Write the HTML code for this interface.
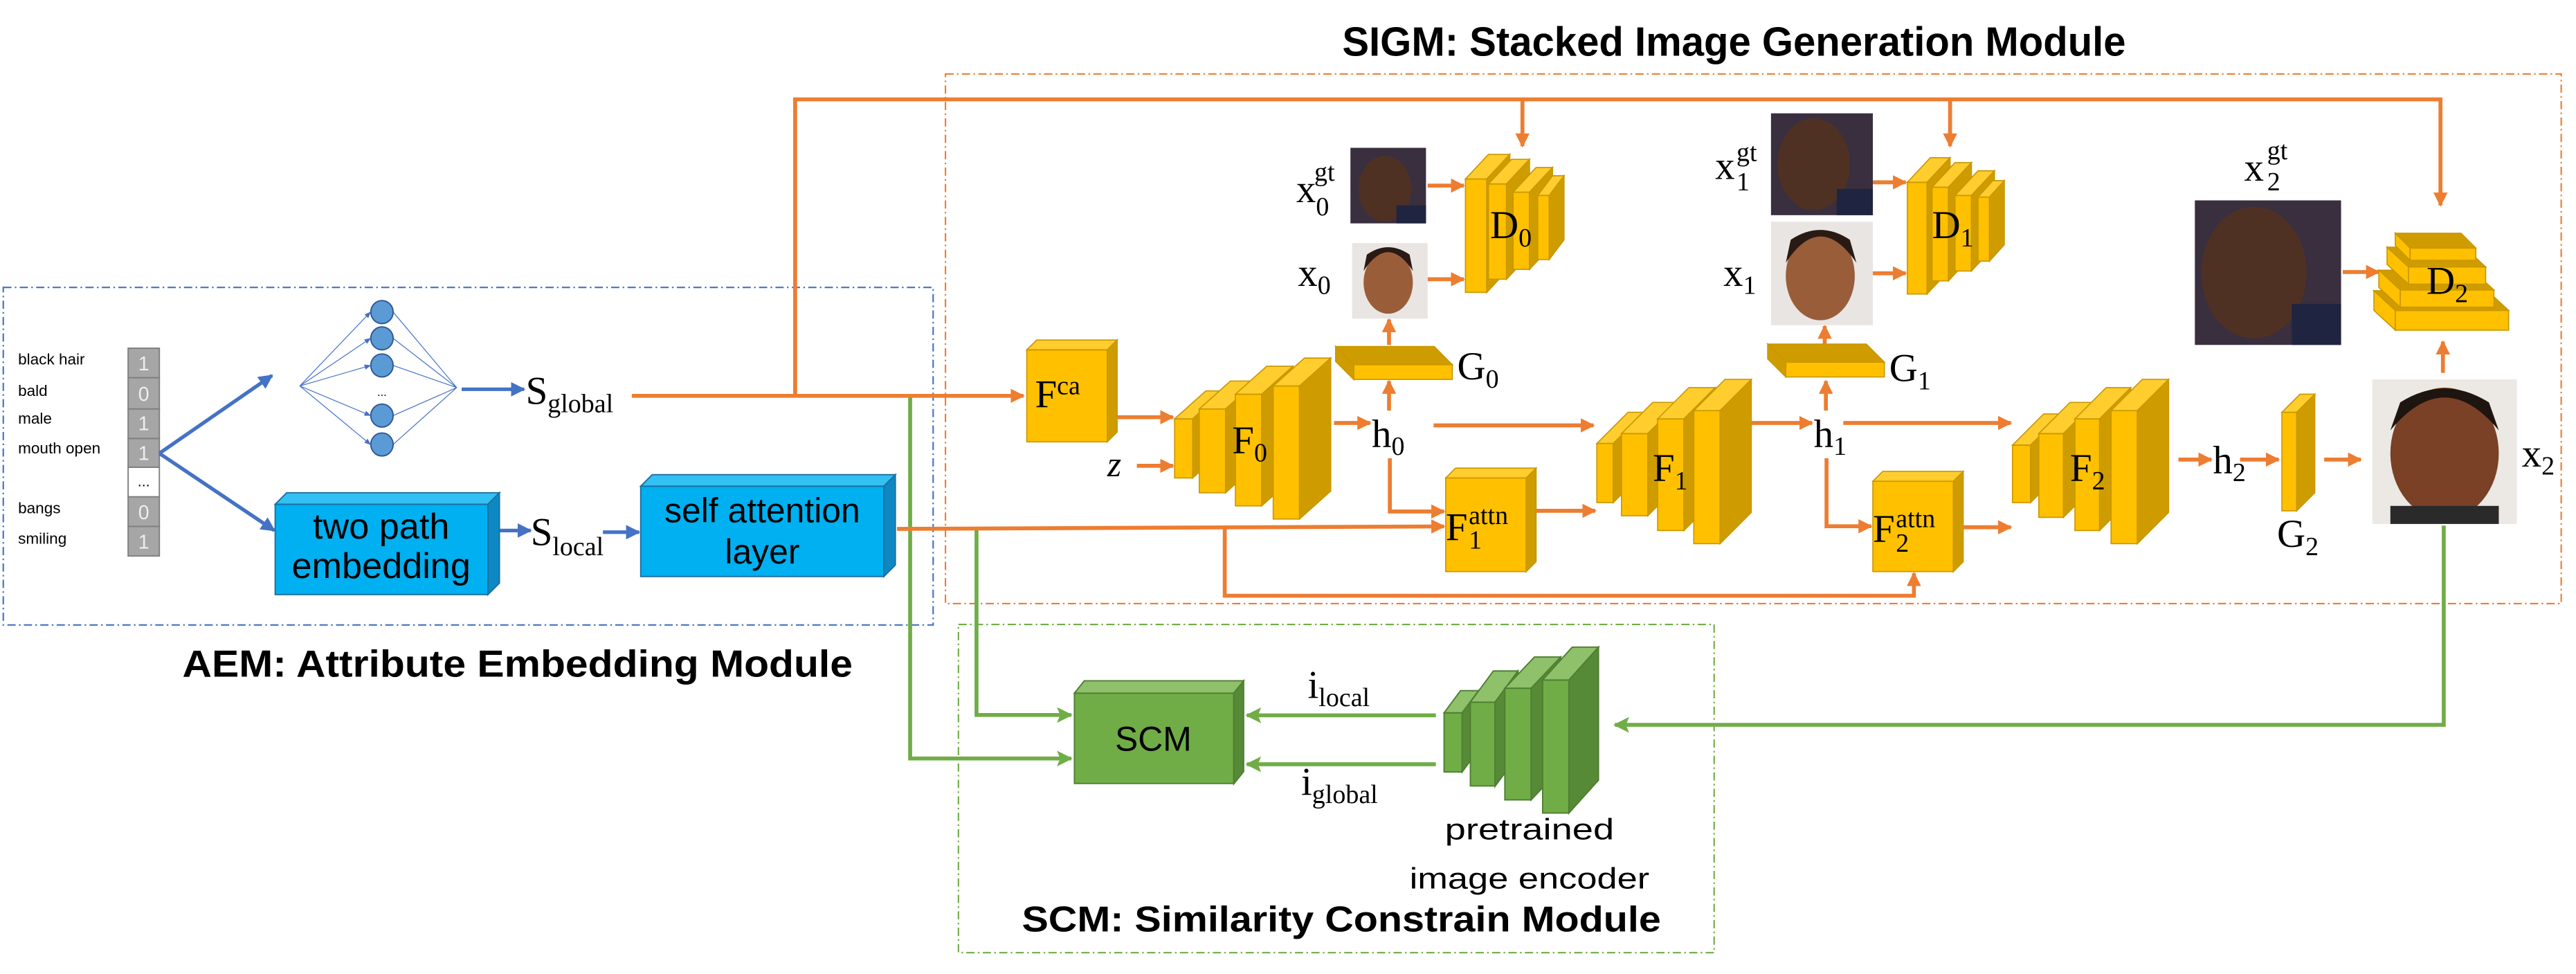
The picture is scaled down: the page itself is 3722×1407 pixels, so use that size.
<!DOCTYPE html>
<html><head><meta charset="utf-8"><style>
html,body{margin:0;padding:0;background:#fff;}
svg{display:block;}
.t{font-family:"Liberation Serif",serif;fill:#000;}
.s{font-family:"Liberation Sans",sans-serif;fill:#000;}
.o{stroke:#ed7d31;stroke-width:2.4;fill:none;}
.b{stroke:#4472c4;stroke-width:2.2;fill:none;}
.g{stroke:#70ad47;stroke-width:2.4;fill:none;}
.yf{fill:#ffc000;stroke:#c99700;stroke-width:0.7;}
.yt{fill:#ffcd2e;stroke:#c99700;stroke-width:0.7;}
.ys{fill:#cf9c00;stroke:#c99700;stroke-width:0.7;}
.gf{fill:#70ad47;stroke:#4f7e31;stroke-width:0.8;}
.gt{fill:#8fc06a;stroke:#4f7e31;stroke-width:0.8;}
.gs{fill:#568a36;stroke:#4f7e31;stroke-width:0.8;}
.bf{fill:#00b0f0;stroke:#1d6fa0;stroke-width:0.8;}
.bt{fill:#33c0f3;stroke:#1d6fa0;stroke-width:0.8;}
.bs{fill:#0e88c2;stroke:#1d6fa0;stroke-width:0.8;}
</style></head><body>
<svg width="3722" height="1407" viewBox="0 0 1568 593" preserveAspectRatio="none" xmlns="http://www.w3.org/2000/svg">
<defs>
<marker id="ao" viewBox="0 0 10 10" refX="9" refY="5" markerWidth="3.6" markerHeight="3.6" orient="auto"><path d="M0,0 L10,5 L0,10 z" fill="#ed7d31"/></marker>
<marker id="ab" viewBox="0 0 10 10" refX="9" refY="5" markerWidth="4" markerHeight="4" orient="auto"><path d="M0,0 L10,5 L0,10 z" fill="#4472c4"/></marker>
<marker id="abs" viewBox="0 0 10 10" refX="9" refY="5" markerWidth="8" markerHeight="8" orient="auto"><path d="M0,1 L10,5 L0,9 z" fill="#4472c4"/></marker>
<marker id="ag" viewBox="0 0 10 10" refX="9" refY="5" markerWidth="4" markerHeight="4.5" orient="auto"><path d="M0,0 L10,5 L0,10 L2,5 z" fill="#70ad47"/></marker>
</defs>

<!-- module boxes -->
<rect x="2" y="175" width="566" height="205.5" fill="none" stroke="#4472c4" stroke-width="0.9" stroke-dasharray="5 2 1 2"/>
<rect x="575.5" y="45" width="983.5" height="322.5" fill="none" stroke="#ed7d31" stroke-width="0.9" stroke-dasharray="5 2 1 2"/>
<rect x="583.4" y="380.2" width="460" height="199.8" fill="none" stroke="#70ad47" stroke-width="0.9" stroke-dasharray="5 2 1 2"/>

<!-- titles -->
<text class="s" x="111" y="412" font-size="23" font-weight="bold" textLength="408" lengthAdjust="spacingAndGlyphs">AEM: Attribute Embedding Module</text>
<text class="s" x="817" y="34" font-size="25" font-weight="bold" textLength="477" lengthAdjust="spacingAndGlyphs">SIGM: Stacked Image Generation Module</text>
<text class="s" x="622" y="567" font-size="22" font-weight="bold" textLength="389" lengthAdjust="spacingAndGlyphs">SCM: Similarity Constrain Module</text>

<!-- attributes -->
<g class="s" font-size="9.5">
<text x="11" y="222">black hair</text><text x="11" y="241">bald</text><text x="11" y="258">male</text>
<text x="11" y="276">mouth open</text><text x="11" y="312.5">bangs</text><text x="11" y="331">smiling</text>
</g>
<g stroke="#7f7f7f" stroke-width="0.8">
<rect x="78" y="212" width="19" height="18" fill="#a6a6a6"/><rect x="78" y="230" width="19" height="19" fill="#a6a6a6"/>
<rect x="78" y="249" width="19" height="18" fill="#a6a6a6"/><rect x="78" y="267" width="19" height="17.5" fill="#a6a6a6"/>
<rect x="78" y="284.5" width="19" height="18" fill="#fff"/><rect x="78" y="302.5" width="19" height="18" fill="#a6a6a6"/>
<rect x="78" y="320.5" width="19" height="18" fill="#a6a6a6"/>
</g>
<g class="s" font-size="12" fill="#eee" style="fill:#eee" text-anchor="middle">
<text x="87.5" y="225.5">1</text><text x="87.5" y="244">0</text><text x="87.5" y="262">1</text><text x="87.5" y="280">1</text>
<text x="87.5" y="316">0</text><text x="87.5" y="334">1</text>
</g>
<text class="s" x="87.5" y="296" font-size="9" text-anchor="middle">...</text>

<!-- blue arrows -->
<path class="b" d="M97,276 L165.6,228.6" marker-end="url(#ab)"/>
<path class="b" d="M97,276 L167,323" marker-end="url(#ab)"/>
<path class="b" d="M281,237 H319" marker-end="url(#ab)"/>
<path class="b" d="M293,323 H323" marker-end="url(#ab)"/>
<path class="b" d="M367,324 H389" marker-end="url(#ab)"/>

<!-- neural net -->
<g stroke="#4472c4" stroke-width="0.5" fill="none">
<path d="M182.5,235 L225.5,190" marker-end="url(#abs)"/><path d="M182.5,235 L225.5,206" marker-end="url(#abs)"/>
<path d="M182.5,235 L225.5,222.5" marker-end="url(#abs)"/><path d="M182.5,235 L225.5,253" marker-end="url(#abs)"/>
<path d="M182.5,235 L225.5,270.6" marker-end="url(#abs)"/>
<path d="M239.3,190 L278,236 M239.3,206 L278,236 M239.3,222.5 L278,236 M239.3,253 L278,236 M239.3,270.6 L278,236"/>
</g>
<g fill="#5b9bd5" stroke="#2f5597" stroke-width="0.8">
<ellipse cx="232.5" cy="190" rx="6.8" ry="7"/><ellipse cx="232.5" cy="206" rx="6.8" ry="7"/>
<ellipse cx="232.5" cy="222.5" rx="6.8" ry="7"/><ellipse cx="232.5" cy="253" rx="6.8" ry="7"/>
<ellipse cx="232.5" cy="270.6" rx="6.8" ry="7"/>
</g>
<text class="s" x="232.5" y="241" font-size="7" text-anchor="middle">...</text>

<text class="t" x="320" y="246" font-size="24">S<tspan font-size="16" dy="5">global</tspan></text>
<text class="t" x="323" y="332" font-size="24">S<tspan font-size="16" dy="6">local</tspan></text>

<!-- blue boxes -->
<rect class="bf" x="167.5" y="307" width="129.5" height="55"/>
<polygon class="bt" points="167.5,307 174.5,300 304,300 297,307"/>
<polygon class="bs" points="297,307 304,300 304,355 297,362"/>
<text class="s" x="232" y="328" font-size="22" text-anchor="middle">two path</text>
<text class="s" x="232" y="352" font-size="22" text-anchor="middle">embedding</text>
<rect class="bf" x="390" y="296" width="148" height="55"/>
<polygon class="bt" points="390,296 397,289 545,289 538,296"/>
<polygon class="bs" points="538,296 545,289 545,344 538,351"/>
<text class="s" x="464" y="318" font-size="21" text-anchor="middle">self attention</text>
<text class="s" x="464" y="343" font-size="21" text-anchor="middle">layer</text>

<!-- green connectors -->
<path class="g" d="M554,242 V461.8 H652" marker-end="url(#ag)"/>
<path class="g" d="M594.4,322 V435.3 H652" marker-end="url(#ag)"/>
<path class="g" d="M874,435.5 H759" marker-end="url(#ag)"/>
<path class="g" d="M874,465.3 H759" marker-end="url(#ag)"/>
<path class="g" d="M1487.5,320 V441.3 H983" marker-end="url(#ag)"/>

<!-- orange connectors -->
<path class="o" d="M384.6,241 H623" marker-end="url(#ao)"/>
<path class="o" d="M484,241 V60.5 H1485.5 V125" marker-end="url(#ao)"/>
<path class="o" d="M926.7,60.5 V89" marker-end="url(#ao)"/>
<path class="o" d="M1187,60.5 V89" marker-end="url(#ao)"/>
<path class="o" d="M674,254 H714" marker-end="url(#ao)"/>
<path class="o" d="M692,283.6 H714" marker-end="url(#ao)"/>
<path class="o" d="M812,257.5 H834" marker-end="url(#ao)"/>
<path class="o" d="M872.6,259 H970" marker-end="url(#ao)"/>
<path class="o" d="M845.5,250 V232" marker-end="url(#ao)"/>
<path class="o" d="M845.5,210 V194.5" marker-end="url(#ao)"/>
<path class="o" d="M846,279 V311.4 H879" marker-end="url(#ao)"/>
<path class="o" d="M546,322 L879,320.5" marker-end="url(#ao)"/>
<path class="o" d="M745.5,321.6 V362.7 H1165 V349" marker-end="url(#ao)"/>
<path class="o" d="M935,311 H971" marker-end="url(#ao)"/>
<path class="o" d="M869,113 H891" marker-end="url(#ao)"/>
<path class="o" d="M869,170 H891" marker-end="url(#ao)"/>
<path class="o" d="M1066,257.5 H1103" marker-end="url(#ao)"/>
<path class="o" d="M1111.4,250 V232" marker-end="url(#ao)"/>
<path class="o" d="M1110.7,215 V198.5" marker-end="url(#ao)"/>
<path class="o" d="M1111.8,279 V320.4 H1139" marker-end="url(#ao)"/>
<path class="o" d="M1122,257.5 H1224" marker-end="url(#ao)"/>
<path class="o" d="M1195,321 H1224" marker-end="url(#ao)"/>
<path class="o" d="M1140,111 H1160" marker-end="url(#ao)"/>
<path class="o" d="M1140,166.4 H1160" marker-end="url(#ao)"/>
<path class="o" d="M1326,279.8 H1346" marker-end="url(#ao)"/>
<path class="o" d="M1363.5,279.8 H1387" marker-end="url(#ao)"/>
<path class="o" d="M1414.7,279.8 H1437" marker-end="url(#ao)"/>
<path class="o" d="M1487,227 V208" marker-end="url(#ao)"/>
<path class="o" d="M1426,165.6 H1448" marker-end="url(#ao)"/>

<!-- Fca -->
<rect class="yf" x="625" y="213" width="49" height="56"/>
<polygon class="yt" points="625,213 631,207 680,207 674,213"/><polygon class="ys" points="674,213 680,207 680,263 674,269"/>
<text class="t" x="630" y="248" font-size="24">F<tspan font-size="16" dy="-8">ca</tspan></text>
<text class="t" x="674" y="290" font-size="22" font-style="italic">z</text>

<!-- F0 -->
<g>
<rect class="yf" x="715" y="255" width="11" height="36"/><polygon class="yt" points="715,255 734,238 745,238 726,255"/><polygon class="ys" points="726,255 745,238 745,274 726,291"/>
<rect class="yf" x="730" y="249" width="16" height="51"/><polygon class="yt" points="730,249 749,232 765,232 746,249"/><polygon class="ys" points="746,249 765,232 765,283 746,300"/>
<rect class="yf" x="752" y="240" width="16" height="68"/><polygon class="yt" points="752,240 771,223 787,223 768,240"/><polygon class="ys" points="768,240 787,223 787,291 768,308"/>
<rect class="yf" x="775" y="235" width="16" height="81"/><polygon class="yt" points="775,235 794,218 810,218 791,235"/><polygon class="ys" points="791,235 810,218 810,299 791,316"/>
</g>
<text class="t" x="750" y="276" font-size="24">F<tspan font-size="16" dy="5">0</tspan></text>

<!-- F1 -->
<rect class="yf" x="972" y="270" width="10" height="36"/><polygon class="yt" points="972,270 991,251 1001,251 982,270"/><polygon class="ys" points="982,270 1001,251 1001,287 982,306"/>
<rect class="yf" x="987" y="264" width="16" height="50"/><polygon class="yt" points="987,264 1006,245 1022,245 1003,264"/><polygon class="ys" points="1003,264 1022,245 1022,295 1003,314"/>
<rect class="yf" x="1009" y="255" width="16" height="68"/><polygon class="yt" points="1009,255 1028,236 1044,236 1025,255"/><polygon class="ys" points="1025,255 1044,236 1044,304 1025,323"/>
<rect class="yf" x="1031" y="250" width="16" height="81"/><polygon class="yt" points="1031,250 1050,231 1066,231 1047,250"/><polygon class="ys" points="1047,250 1066,231 1066,312 1047,331"/>
<text class="t" x="1006" y="293" font-size="24">F<tspan font-size="16" dy="5">1</tspan></text>

<!-- F2 -->
<rect class="yf" x="1225" y="271" width="11" height="35"/><polygon class="yt" points="1225,271 1244,252 1255,252 1236,271"/><polygon class="ys" points="1236,271 1255,252 1255,287 1236,306"/>
<rect class="yf" x="1241" y="264" width="15" height="51"/><polygon class="yt" points="1241,264 1260,245 1275,245 1256,264"/><polygon class="ys" points="1256,264 1275,245 1275,296 1256,315"/>
<rect class="yf" x="1263" y="255" width="15" height="68"/><polygon class="yt" points="1263,255 1282,236 1297,236 1278,255"/><polygon class="ys" points="1278,255 1297,236 1297,304 1278,323"/>
<rect class="yf" x="1285" y="250" width="16" height="81"/><polygon class="yt" points="1285,250 1304,231 1320,231 1301,250"/><polygon class="ys" points="1301,250 1320,231 1320,312 1301,331"/>
<text class="t" x="1260" y="293" font-size="24">F<tspan font-size="16" dy="5">2</tspan></text>

<!-- D0 -->
<rect class="yf" x="892" y="109" width="13" height="69"/><polygon class="yt" points="892,109 906,94 919,94 905,109"/><polygon class="ys" points="905,109 919,94 919,163 905,178"/>
<rect class="yf" x="906" y="112" width="11" height="58"/><polygon class="yt" points="906,112 920,97 931,97 917,112"/><polygon class="ys" points="917,112 931,97 931,155 917,170"/>
<rect class="yf" x="921" y="117" width="10" height="47"/><polygon class="yt" points="921,117 935,102 945,102 931,117"/><polygon class="ys" points="931,117 945,102 945,149 931,164"/>
<rect class="yf" x="936" y="119" width="7" height="39"/><polygon class="yt" points="936,119 945,107 952,107 943,119"/><polygon class="ys" points="943,119 952,107 952,146 943,158"/>
<text class="t" x="907" y="145" font-size="24">D<tspan font-size="16" dy="5">0</tspan></text>

<!-- D1 -->
<rect class="yf" x="1161" y="111" width="12" height="68"/><polygon class="yt" points="1161,111 1175,96 1187,96 1173,111"/><polygon class="ys" points="1173,111 1187,96 1187,164 1173,179"/>
<rect class="yf" x="1176" y="114" width="10" height="57"/><polygon class="yt" points="1176,114 1190,99 1200,99 1186,114"/><polygon class="ys" points="1186,114 1200,99 1200,156 1186,171"/>
<rect class="yf" x="1190" y="119" width="10" height="46"/><polygon class="yt" points="1190,119 1204,104 1214,104 1200,119"/><polygon class="ys" points="1200,119 1214,104 1214,150 1200,165"/>
<rect class="yf" x="1204" y="120" width="7" height="39"/><polygon class="yt" points="1204,120 1213,110 1220,110 1211,120"/><polygon class="ys" points="1211,120 1220,110 1220,149 1211,159"/>
<text class="t" x="1176" y="145" font-size="24">D<tspan font-size="16" dy="5">1</tspan></text>

<!-- G0 G1 G2 -->
<rect class="yf" x="824" y="222" width="60" height="9"/><polygon class="ys" points="824,222 813,211 873,211 884,222"/><polygon class="ys" points="824,222 813,211 813,220 824,231"/>
<text class="t" x="887" y="231" font-size="24">G<tspan font-size="16" dy="5">0</tspan></text>
<rect class="yf" x="1087" y="220.5" width="60" height="9"/><polygon class="ys" points="1087,220.5 1076,209.5 1136,209.5 1147,220.5"/><polygon class="ys" points="1087,220.5 1076,209.5 1076,218.5 1087,229.5"/>
<text class="t" x="1150" y="232" font-size="24">G<tspan font-size="16" dy="5">1</tspan></text>
<rect class="yf" x="1389" y="251" width="9" height="60"/><polygon class="yt" points="1389,251 1400,240 1409,240 1398,251"/><polygon class="ys" points="1398,251 1409,240 1409,300 1398,311"/>
<text class="t" x="1386" y="333" font-size="24">G<tspan font-size="16" dy="5">2</tspan></text>

<!-- Fattn -->
<rect class="yf" x="880" y="291" width="49" height="57"/><polygon class="yt" points="880,291 886,285 935,285 929,291"/><polygon class="ys" points="929,291 935,285 935,342 929,348"/>
<text class="t" x="880" y="329" font-size="24">F</text><text class="t" x="894" y="319" font-size="16">attn</text><text class="t" x="894" y="334" font-size="16">1</text>
<rect class="yf" x="1140" y="293" width="49" height="55"/><polygon class="yt" points="1140,293 1146,287 1195,287 1189,293"/><polygon class="ys" points="1189,293 1195,287 1195,342 1189,348"/>
<text class="t" x="1140" y="330" font-size="24">F</text><text class="t" x="1154" y="321" font-size="16">attn</text><text class="t" x="1154" y="336" font-size="16">2</text>

<!-- D2 -->
<rect class="yf" x="1458" y="189" width="69" height="12"/><polygon class="ys" points="1458,189 1445,177 1514,177 1527,189"/><polygon class="yf" points="1458,189 1445,177 1445,189 1458,201"/>
<rect class="yf" x="1461" y="176.5" width="57" height="10.5"/><polygon class="ys" points="1461,176.5 1448,164.5 1505,164.5 1518,176.5"/><polygon class="yf" points="1461,176.5 1448,164.5 1448,175 1461,187"/>
<rect class="yf" x="1466" y="162.5" width="47" height="10.5"/><polygon class="ys" points="1466,162.5 1453,150.5 1500,150.5 1513,162.5"/><polygon class="yf" points="1466,162.5 1453,150.5 1453,161 1466,173"/>
<rect class="yf" x="1467" y="151" width="40" height="7.5"/><polygon class="ys" points="1467,151 1458,142 1498,142 1507,151"/><polygon class="yf" points="1467,151 1458,142 1458,149.5 1467,158.5"/>
<text class="t" x="1477" y="179" font-size="24">D<tspan font-size="16" dy="5">2</tspan></text>

<!-- h labels -->
<text class="t" x="835" y="272" font-size="24">h<tspan font-size="16" dy="5">0</tspan></text>
<text class="t" x="1104" y="272" font-size="24">h<tspan font-size="16" dy="5">1</tspan></text>
<text class="t" x="1347" y="288" font-size="24">h<tspan font-size="16" dy="5">2</tspan></text>

<!-- faces -->
<g>
<rect x="822" y="90" width="46" height="46" fill="#3a2f3e"/><ellipse cx="843" cy="115" rx="16" ry="20" fill="#4f3124"/><rect x="850" y="125" width="18" height="11" fill="#1f2440"/>
<rect x="823" y="148" width="46" height="46" fill="#e9e5e2"/><ellipse cx="845" cy="172" rx="15" ry="19" fill="#9a5d3a"/><path d="M830,165 Q845,142 860,165 L858,155 Q845,146 832,155 z" fill="#2a1a14"/>
<rect x="1078" y="69" width="62" height="62" fill="#3a2f3e"/><ellipse cx="1104" cy="100" rx="22" ry="28" fill="#4f3124"/><rect x="1118" y="115" width="22" height="16" fill="#1f2440"/>
<rect x="1078" y="135" width="62" height="63" fill="#e9e5e2"/><ellipse cx="1108" cy="168" rx="21" ry="27" fill="#9a5d3a"/><path d="M1087,160 Q1108,128 1130,160 L1126,146 Q1108,134 1090,146 z" fill="#2a1a14"/>
<rect x="1336" y="122" width="89" height="88" fill="#3a2f3e"/><ellipse cx="1372" cy="166" rx="32" ry="40" fill="#4f3124"/><rect x="1395" y="185" width="30" height="25" fill="#1f2440"/>
<rect x="1444" y="231" width="88" height="88" fill="#ece8e4"/><ellipse cx="1488" cy="276" rx="33" ry="40" fill="#7a4126"/><path d="M1455,262 Q1488,222 1521,262 L1515,245 Q1488,228 1461,245 z" fill="#1e1410"/><rect x="1455" y="308" width="66" height="11" fill="#2a2a2a"/>
</g>

<!-- x labels -->
<text class="t" x="789" y="123" font-size="24">x</text><text class="t" x="800" y="110" font-size="16">gt</text><text class="t" x="801" y="131" font-size="16">0</text>
<text class="t" x="790" y="174" font-size="24">x<tspan font-size="16" dy="5">0</tspan></text>
<text class="t" x="1044" y="109" font-size="24">x</text><text class="t" x="1057" y="98" font-size="16">gt</text><text class="t" x="1057" y="116" font-size="16">1</text>
<text class="t" x="1049" y="174" font-size="24">x<tspan font-size="16" dy="5">1</tspan></text>
<text class="t" x="1366" y="110" font-size="24">x</text><text class="t" x="1380" y="97" font-size="16">gt</text><text class="t" x="1380" y="116" font-size="16">2</text>
<text class="t" x="1535" y="284" font-size="24">x<tspan font-size="16" dy="5">2</tspan></text>

<!-- SCM block -->
<rect class="gf" x="654" y="422" width="97" height="55"/><polygon class="gt" points="654,422 660,414.5 757,414.5 751,422"/><polygon class="gs" points="751,422 757,414.5 757,469.8 751,477.3"/>
<text class="s" x="702" y="457" font-size="21" text-anchor="middle">SCM</text>
<text class="t" x="796" y="425" font-size="24">i<tspan font-size="16" dy="5">local</tspan></text>
<text class="t" x="792" y="484" font-size="24">i<tspan font-size="16" dy="5">global</tspan></text>

<!-- encoder -->
<rect class="gf" x="879" y="434" width="11" height="36"/><polygon class="gt" points="879,434 889,420.5 900,420.5 890,434"/><polygon class="gs" points="890,434 900,420.5 900,456.5 890,470"/>
<rect class="gf" x="895" y="427.5" width="15" height="51"/><polygon class="gt" points="895,427.5 909,408.5 924,408.5 910,427.5"/><polygon class="gs" points="910,427.5 924,408.5 924,459.8 910,478.8"/>
<rect class="gf" x="916" y="419" width="16" height="68"/><polygon class="gt" points="916,419 934,400 950,400 932,419"/><polygon class="gs" points="932,419 950,400 950,468 932,487"/>
<rect class="gf" x="939" y="414" width="16" height="81"/><polygon class="gt" points="939,414 957,394 973,394 955,414"/><polygon class="gs" points="955,414 973,394 973,475 955,495"/>
<text class="s" x="931" y="511" font-size="18" text-anchor="middle" textLength="103" lengthAdjust="spacingAndGlyphs">pretrained</text>
<text class="s" x="931" y="541" font-size="18" text-anchor="middle" textLength="146" lengthAdjust="spacingAndGlyphs">image encoder</text>
</svg>
</body></html>
